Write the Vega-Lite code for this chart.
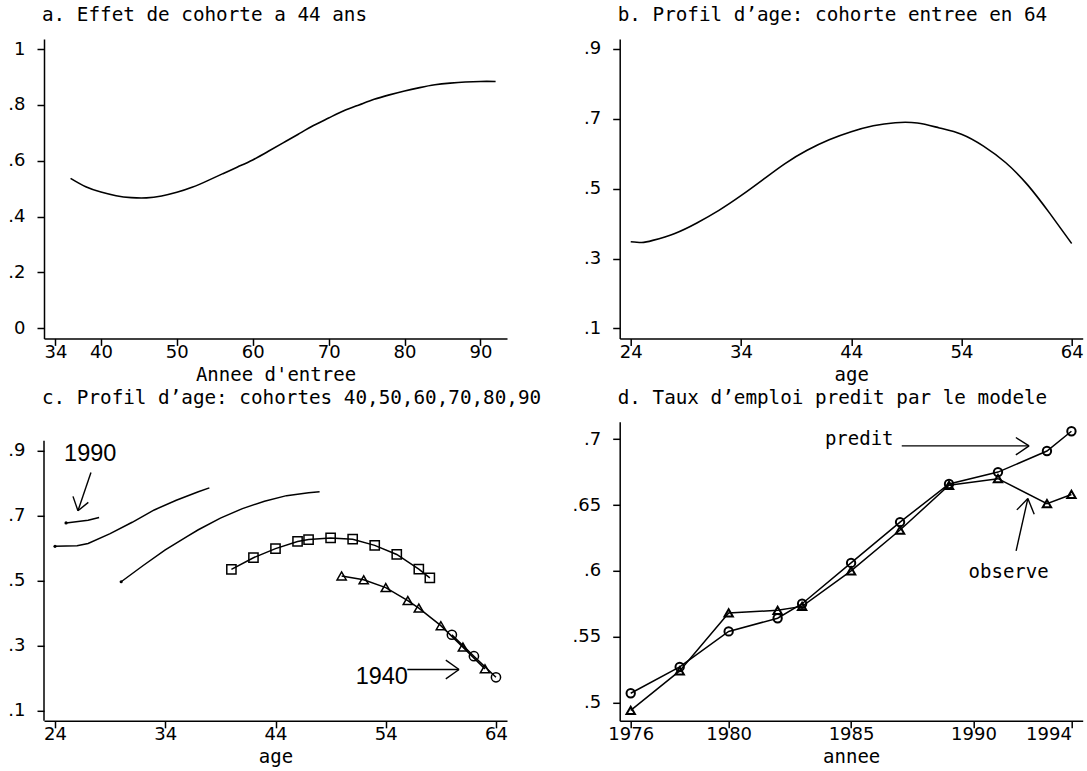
{
  "$schema": "https://vega.github.io/schema/vega-lite/v6.json",
  "background": "white",
  "padding": {"left": 7, "top": 6, "right": 0, "bottom": 0},
  "autosize": {"type": "pad"},
  "columns": 2,
  "spacing": {"row": 82.8, "column": 112.7},
  "bounds": "flush",
  "align": "all",
  "datasets": {
    "effet": [
      {"annee": 36, "effet": 0.537}, {"annee": 38, "effet": 0.507}, {"annee": 40, "effet": 0.488},
      {"annee": 42, "effet": 0.475}, {"annee": 44, "effet": 0.468}, {"annee": 46, "effet": 0.467},
      {"annee": 48, "effet": 0.474}, {"annee": 50, "effet": 0.487}, {"annee": 52, "effet": 0.505},
      {"annee": 54, "effet": 0.528}, {"annee": 56, "effet": 0.553}, {"annee": 58, "effet": 0.578},
      {"annee": 60, "effet": 0.603}, {"annee": 62, "effet": 0.633}, {"annee": 64, "effet": 0.664},
      {"annee": 66, "effet": 0.695}, {"annee": 68, "effet": 0.726}, {"annee": 70, "effet": 0.753},
      {"annee": 72, "effet": 0.779}, {"annee": 74, "effet": 0.800}, {"annee": 76, "effet": 0.820},
      {"annee": 78, "effet": 0.836}, {"annee": 80, "effet": 0.850}, {"annee": 82, "effet": 0.862},
      {"annee": 84, "effet": 0.872}, {"annee": 86, "effet": 0.878}, {"annee": 88, "effet": 0.882},
      {"annee": 90, "effet": 0.884}, {"annee": 92, "effet": 0.884}
    ],
    "profil": [
      {"age": 24, "taux": 0.348}, {"age": 25, "taux": 0.346}, {"age": 26, "taux": 0.352},
      {"age": 28, "taux": 0.372}, {"age": 30, "taux": 0.402}, {"age": 32, "taux": 0.438},
      {"age": 34, "taux": 0.480}, {"age": 36, "taux": 0.526}, {"age": 38, "taux": 0.572},
      {"age": 40, "taux": 0.610}, {"age": 42, "taux": 0.640}, {"age": 44, "taux": 0.663},
      {"age": 46, "taux": 0.680}, {"age": 48, "taux": 0.689}, {"age": 50, "taux": 0.688},
      {"age": 52, "taux": 0.674}, {"age": 54, "taux": 0.656}, {"age": 56, "taux": 0.622},
      {"age": 58, "taux": 0.575}, {"age": 60, "taux": 0.511}, {"age": 62, "taux": 0.430},
      {"age": 64, "taux": 0.343}
    ],
    "cohortes": [
      {"cohorte": 1940, "age": 60, "taux": 0.334}, {"cohorte": 1940, "age": 62, "taux": 0.268}, {"cohorte": 1940, "age": 64, "taux": 0.203},
      {"cohorte": 1950, "age": 50, "taux": 0.515}, {"cohorte": 1950, "age": 52, "taux": 0.503}, {"cohorte": 1950, "age": 54, "taux": 0.479},
      {"cohorte": 1950, "age": 56, "taux": 0.439}, {"cohorte": 1950, "age": 57, "taux": 0.416}, {"cohorte": 1950, "age": 59, "taux": 0.362},
      {"cohorte": 1950, "age": 61, "taux": 0.296}, {"cohorte": 1950, "age": 63, "taux": 0.229},
      {"cohorte": 1960, "age": 40, "taux": 0.535}, {"cohorte": 1960, "age": 42, "taux": 0.571}, {"cohorte": 1960, "age": 44, "taux": 0.599},
      {"cohorte": 1960, "age": 46, "taux": 0.621}, {"cohorte": 1960, "age": 47, "taux": 0.627}, {"cohorte": 1960, "age": 49, "taux": 0.632},
      {"cohorte": 1960, "age": 51, "taux": 0.628}, {"cohorte": 1960, "age": 53, "taux": 0.609}, {"cohorte": 1960, "age": 55, "taux": 0.581},
      {"cohorte": 1960, "age": 57, "taux": 0.536}, {"cohorte": 1960, "age": 58, "taux": 0.509},
      {"cohorte": 1970, "age": 30, "taux": 0.497}, {"cohorte": 1970, "age": 32, "taux": 0.547}, {"cohorte": 1970, "age": 34, "taux": 0.595},
      {"cohorte": 1970, "age": 36, "taux": 0.637}, {"cohorte": 1970, "age": 37, "taux": 0.657}, {"cohorte": 1970, "age": 39, "taux": 0.693},
      {"cohorte": 1970, "age": 41, "taux": 0.722}, {"cohorte": 1970, "age": 43, "taux": 0.745}, {"cohorte": 1970, "age": 45, "taux": 0.762},
      {"cohorte": 1970, "age": 47, "taux": 0.771}, {"cohorte": 1970, "age": 48, "taux": 0.774},
      {"cohorte": 1980, "age": 24, "taux": 0.606}, {"cohorte": 1980, "age": 26, "taux": 0.608}, {"cohorte": 1980, "age": 27, "taux": 0.615},
      {"cohorte": 1980, "age": 29, "taux": 0.645}, {"cohorte": 1980, "age": 31, "taux": 0.680}, {"cohorte": 1980, "age": 33, "taux": 0.718},
      {"cohorte": 1980, "age": 35, "taux": 0.748}, {"cohorte": 1980, "age": 37, "taux": 0.774}, {"cohorte": 1980, "age": 38, "taux": 0.786},
      {"cohorte": 1990, "age": 25, "taux": 0.678}, {"cohorte": 1990, "age": 27, "taux": 0.686}, {"cohorte": 1990, "age": 28, "taux": 0.695}
    ],
    "fleches_c": [
      {"x": 27.26, "y": 0.8335, "x2": 26.08, "y2": 0.7154},
      {"x": 25.63, "y": 0.7597, "x2": 26.08, "y2": 0.7154},
      {"x": 27.02, "y": 0.7412, "x2": 26.08, "y2": 0.7154},
      {"x": 55.96, "y": 0.227, "x2": 60.65, "y2": 0.227},
      {"x": 59.45, "y": 0.256, "x2": 60.65, "y2": 0.227},
      {"x": 59.45, "y": 0.198, "x2": 60.65, "y2": 0.227}
    ],
    "etiquettes_c": [
      {"texte": "1990", "age": 24.82, "taux": 0.869},
      {"texte": "1940", "age": 51.27, "taux": 0.182}
    ],
    "emploi": [
      {"annee": 1976, "serie": "predit", "taux": 0.507}, {"annee": 1978, "serie": "predit", "taux": 0.527},
      {"annee": 1980, "serie": "predit", "taux": 0.554}, {"annee": 1982, "serie": "predit", "taux": 0.564},
      {"annee": 1983, "serie": "predit", "taux": 0.575}, {"annee": 1985, "serie": "predit", "taux": 0.606},
      {"annee": 1987, "serie": "predit", "taux": 0.637}, {"annee": 1989, "serie": "predit", "taux": 0.666},
      {"annee": 1991, "serie": "predit", "taux": 0.675}, {"annee": 1993, "serie": "predit", "taux": 0.691},
      {"annee": 1994, "serie": "predit", "taux": 0.706},
      {"annee": 1976, "serie": "observe", "taux": 0.494}, {"annee": 1978, "serie": "observe", "taux": 0.524},
      {"annee": 1980, "serie": "observe", "taux": 0.568}, {"annee": 1982, "serie": "observe", "taux": 0.570},
      {"annee": 1983, "serie": "observe", "taux": 0.573}, {"annee": 1985, "serie": "observe", "taux": 0.600},
      {"annee": 1987, "serie": "observe", "taux": 0.631}, {"annee": 1989, "serie": "observe", "taux": 0.665},
      {"annee": 1991, "serie": "observe", "taux": 0.670}, {"annee": 1993, "serie": "observe", "taux": 0.651},
      {"annee": 1994, "serie": "observe", "taux": 0.658}
    ],
    "fleches_d": [
      {"x": 1987.07, "y": 0.6949, "x2": 1992.27, "y2": 0.6949},
      {"x": 1991.73, "y": 0.7013, "x2": 1992.27, "y2": 0.6949},
      {"x": 1991.73, "y": 0.6881, "x2": 1992.27, "y2": 0.6949},
      {"x": 1991.74, "y": 0.6152, "x2": 1992.22, "y2": 0.6549},
      {"x": 1991.77, "y": 0.6463, "x2": 1992.22, "y2": 0.6549},
      {"x": 1992.48, "y": 0.6430, "x2": 1992.22, "y2": 0.6549}
    ],
    "etiquettes_d": [
      {"texte": "predit", "annee": 1983.93, "taux": 0.6954},
      {"texte": "observe", "annee": 1989.8, "taux": 0.5942}
    ]
  },
  "concat": [
    {
      "title": "a. Effet de cohorte a 44 ans",
      "width": 463,
      "height": 299.4,
      "data": {"name": "effet"},
      "mark": {"type": "line", "color": "black", "strokeWidth": 1.6, "interpolate": "natural"},
      "encoding": {
        "x": {"field": "annee", "type": "quantitative",
              "scale": {"domain": [32.5, 93.5], "nice": false, "zero": false},
              "axis": {"values": [34, 40, 50, 60, 70, 80, 90], "format": "d", "title": "Annee d'entree"}},
        "y": {"field": "effet", "type": "quantitative",
              "scale": {"domain": [-0.036, 1.036], "nice": false, "zero": false},
              "axis": {"values": [0, 0.2, 0.4, 0.6, 0.8, 1], "title": null,
                       "labelExpr": "replace(format(datum.value, '~g'), '0.', '.')"}}
      }
    },
    {
      "title": "b. Profil d’age: cohorte entree en 64",
      "width": 463,
      "height": 299.4,
      "data": {"name": "profil"},
      "mark": {"type": "line", "color": "black", "strokeWidth": 1.6, "interpolate": "natural"},
      "encoding": {
        "x": {"field": "age", "type": "quantitative",
              "scale": {"domain": [23, 65], "nice": false, "zero": false},
              "axis": {"values": [24, 34, 44, 54, 64], "format": "d", "title": "age"}},
        "y": {"field": "taux", "type": "quantitative",
              "scale": {"domain": [0.0714, 0.9286], "nice": false, "zero": false},
              "axis": {"values": [0.1, 0.3, 0.5, 0.7, 0.9], "title": null,
                       "labelExpr": "replace(format(datum.value, '~g'), '0.', '.')"}}
      }
    },
    {
      "title": "c. Profil d’age: cohortes 40,50,60,70,80,90",
      "width": 463,
      "height": 299,
      "layer": [
        {
          "data": {"name": "cohortes"},
          "mark": {"type": "line", "color": "black", "strokeWidth": 1.5},
          "encoding": {
            "x": {"field": "age", "type": "quantitative",
                  "scale": {"domain": [23, 65], "nice": false, "zero": false},
                  "axis": {"values": [24, 34, 44, 54, 64], "format": "d", "title": "age"}},
            "y": {"field": "taux", "type": "quantitative",
                  "scale": {"domain": [0.0692, 0.9892], "nice": false, "zero": false},
                  "axis": {"values": [0.1, 0.3, 0.5, 0.7, 0.9], "title": null, "domain": false,
                           "labelExpr": "replace(format(datum.value, '~g'), '0.', '.')"}},
            "detail": {"field": "cohorte", "type": "nominal"}
          }
        },
        {
          "data": {"values": [{}]},
          "mark": {"type": "rule", "color": "black", "strokeWidth": 1.5},
          "encoding": {
            "x": {"datum": 23, "type": "quantitative"},
            "y": {"datum": 0.0692, "type": "quantitative"},
            "y2": {"datum": 0.9308}
          }
        },
        {
          "data": {"name": "cohortes"},
          "transform": [{"filter": "datum.cohorte <= 1960"}],
          "mark": {"type": "point", "filled": false, "color": "black", "strokeWidth": 1.5, "size": 85, "opacity": 1},
          "encoding": {
            "x": {"field": "age", "type": "quantitative"},
            "y": {"field": "taux", "type": "quantitative"},
            "shape": {"field": "cohorte", "type": "nominal",
                      "scale": {"domain": [1940, 1950, 1960], "range": ["circle", "triangle-up", "square"]},
                      "legend": null}
          }
        },
        {
          "data": {"name": "cohortes"},
          "transform": [
            {"filter": "datum.cohorte >= 1970"},
            {"joinaggregate": [{"op": "min", "field": "age", "as": "agemin"}], "groupby": ["cohorte"]},
            {"filter": "datum.age == datum.agemin"}
          ],
          "mark": {"type": "circle", "color": "black", "size": 10, "opacity": 1},
          "encoding": {
            "x": {"field": "age", "type": "quantitative"},
            "y": {"field": "taux", "type": "quantitative"}
          }
        },
        {
          "data": {"name": "fleches_c"},
          "mark": {"type": "rule", "color": "black", "strokeWidth": 1.4},
          "encoding": {
            "x": {"field": "x", "type": "quantitative"},
            "y": {"field": "y", "type": "quantitative"},
            "x2": {"field": "x2"},
            "y2": {"field": "y2"}
          }
        },
        {
          "data": {"name": "etiquettes_c"},
          "mark": {"type": "text", "font": "Liberation Sans", "fontSize": 23.5, "align": "left", "baseline": "alphabetic", "color": "black"},
          "encoding": {
            "x": {"field": "age", "type": "quantitative"},
            "y": {"field": "taux", "type": "quantitative"},
            "text": {"field": "texte"}
          }
        }
      ]
    },
    {
      "title": "d. Taux d’emploi predit par le modele",
      "width": 463,
      "height": 299,
      "layer": [
        {
          "data": {"name": "emploi"},
          "mark": {"type": "line", "color": "black", "strokeWidth": 1.5},
          "encoding": {
            "x": {"field": "annee", "type": "quantitative",
                  "scale": {"domain": [1975.55, 1994.46], "nice": false, "zero": false},
                  "axis": {"values": [1976, 1980, 1985, 1990, 1994], "format": "d", "title": "annee",
                           "labelAlign": {"expr": "datum.value == 1994 ? 'right' : 'center'"}}},
            "y": {"field": "taux", "type": "quantitative",
                  "scale": {"domain": [0.4861, 0.7132], "nice": false, "zero": false},
                  "axis": {"values": [0.5, 0.55, 0.6, 0.65, 0.7], "title": null,
                           "labelExpr": "replace(format(datum.value, '~g'), '0.', '.')"}},
            "detail": {"field": "serie", "type": "nominal"}
          }
        },
        {
          "data": {"name": "emploi"},
          "mark": {"type": "point", "filled": false, "color": "black", "strokeWidth": 2, "size": 70, "opacity": 1},
          "encoding": {
            "x": {"field": "annee", "type": "quantitative"},
            "y": {"field": "taux", "type": "quantitative"},
            "shape": {"field": "serie", "type": "nominal",
                      "scale": {"domain": ["predit", "observe"], "range": ["circle", "triangle-up"]},
                      "legend": null}
          }
        },
        {
          "data": {"name": "fleches_d"},
          "mark": {"type": "rule", "color": "black", "strokeWidth": 1.4},
          "encoding": {
            "x": {"field": "x", "type": "quantitative"},
            "y": {"field": "y", "type": "quantitative"},
            "x2": {"field": "x2"},
            "y2": {"field": "y2"}
          }
        },
        {
          "data": {"name": "etiquettes_d"},
          "mark": {"type": "text", "font": "DejaVu Sans Mono", "fontSize": 19, "align": "left", "baseline": "alphabetic", "color": "black"},
          "encoding": {
            "x": {"field": "annee", "type": "quantitative"},
            "y": {"field": "taux", "type": "quantitative"},
            "text": {"field": "texte"}
          }
        }
      ]
    }
  ],
  "config": {
    "view": {"stroke": null},
    "font": "DejaVu Sans Mono",
    "axis": {
      "grid": false,
      "domainColor": "black",
      "domainWidth": 1.5,
      "tickColor": "black",
      "tickWidth": 1.5,
      "tickSize": 7,
      "labelFont": "DejaVu Sans",
      "labelFontSize": 18,
      "labelColor": "black",
      "labelFlush": false,
      "labelOverlap": false,
      "titleFont": "DejaVu Sans Mono",
      "titleFontSize": 19,
      "titleFontWeight": "normal",
      "titleColor": "black"
    },
    "axisX": {"labelPadding": -2, "titlePadding": 4},
    "axisY": {"labelPadding": 12},
    "title": {
      "font": "DejaVu Sans Mono",
      "fontSize": 19.3,
      "fontWeight": "normal",
      "color": "black",
      "anchor": "start",
      "frame": "group",
      "offset": 13.5,
      "baseline": "alphabetic",
      "dx": -2
    }
  }
}
